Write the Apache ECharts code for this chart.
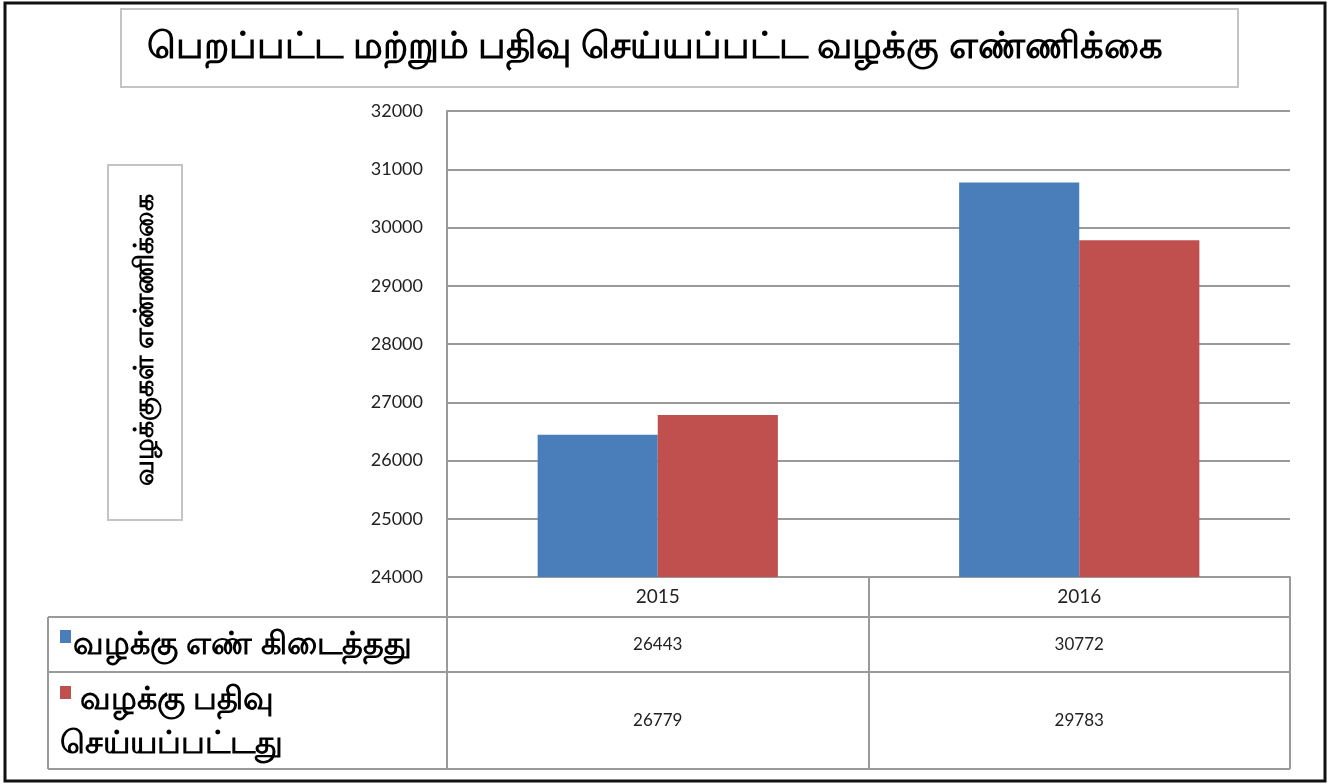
<!DOCTYPE html>
<html>
<head>
<meta charset="utf-8">
<script src="https://cdn.jsdelivr.net/npm/echarts@6/dist/echarts.min.js"></script>
<style>
  html, body { margin: 0; padding: 0; background: #fff; }
  #chart { width: 1342px; height: 784px; }
</style>
</head>
<body>
<div id="chart"></div>
<script>
// Received vs registered case counts, 2015-2016, bar chart with a data table underneath.
const titleText = "பெறப்பட்ட மற்றும் பதிவு செய்யப்பட்ட வழக்கு எண்ணிக்கை";
const yAxisTitle = "வழக்குகள் எண்ணிக்கை";
const years = ["2015", "2016"];
const seriesNames = ["வழக்கு எண் கிடைத்தது", "வழக்கு பதிவு செய்யப்பட்டது"];
const rowHeaderLines = [["வழக்கு எண் கிடைத்தது"], ["வழக்கு பதிவு", "செய்யப்பட்டது"]];
const received = [26443, 30772];
const registered = [26779, 29783];
const colors = ["#4a7ebb", "#c0504d"];
const yMin = 24000, yMax = 32000, yStep = 1000;

const FONT = "'Noto Sans', 'DejaVu Sans', sans-serif";
const NUMFONT = "Lato, 'Open Sans', sans-serif";
const GRID = "#9a9a9a";

const chart = echarts.init(document.getElementById("chart"));

// table rows below the plot (header row is the x axis itself)
const rowLine = (y, x1) => ({
  type: "line", silent: true,
  shape: { x1: x1, y1: y, x2: 1290, y2: y },
  style: { stroke: GRID, lineWidth: 2 },
});
const headerText = (x, y, text) => ({
  type: "text", silent: true, x: x, y: y,
  style: { text: text, fontFamily: FONT, fontSize: 32, fontWeight: "bold", fill: "#000",
    verticalAlign: "middle" },
});

chart.setOption({
  animation: false,
  textStyle: { fontFamily: FONT },
  grid: { left: 447, right: 52, top: 111, bottom: 207 },
  xAxis: {
    type: "category", data: years,
    axisLine: { lineStyle: { color: GRID, width: 2 } },
    axisTick: { show: true, length: 192, lineStyle: { color: GRID, width: 2 } },
    axisLabel: {
      margin: 0,
      formatter: (v, i) => `{y|${v}}\n{a|${received[i]}}\n{b|${registered[i]}}`,
      rich: {
        y: { fontFamily: NUMFONT, fontSize: 19, color: "#222", lineHeight: 40 },
        a: { fontFamily: NUMFONT, fontSize: 17, color: "#222", lineHeight: 55 },
        b: { fontFamily: NUMFONT, fontSize: 17, color: "#222", lineHeight: 97 },
      },
    },
  },
  yAxis: {
    type: "value", min: yMin, max: yMax, interval: yStep,
    axisLine: { show: true, lineStyle: { color: GRID, width: 2 } },
    axisTick: { show: false },
    axisLabel: { fontFamily: NUMFONT, fontSize: 18, color: "#222", margin: 24,
      formatter: (v) => String(v) },
    splitLine: { lineStyle: { color: GRID, width: 2 } },
  },
  series: [
    { name: seriesNames[0], type: "bar", data: received, barGap: "0%", barCategoryGap: "43%",
      itemStyle: { color: colors[0] } },
    { name: seriesNames[1], type: "bar", data: registered, barGap: "0%", barCategoryGap: "43%",
      itemStyle: { color: colors[1] } },
  ],
  graphic: [
    // outer frame
    { type: "rect", silent: true, shape: { x: 5, y: 3, width: 1320, height: 778 },
      style: { fill: "none", stroke: "#111", lineWidth: 3 } },
    // title box
    { type: "rect", silent: true, shape: { x: 121, y: 9, width: 1117, height: 78 },
      style: { fill: "#fff", stroke: "#c4c4c4", lineWidth: 2 } },
    { type: "text", silent: true, x: 655, y: 47,
      style: { text: titleText, fontFamily: FONT, fontSize: 37, fontWeight: "bold", fill: "#000",
        align: "center", verticalAlign: "middle" } },
    // y axis title box
    { type: "rect", silent: true, shape: { x: 108, y: 165, width: 74, height: 355 },
      style: { fill: "#fff", stroke: "#c4c4c4", lineWidth: 2 } },
    { type: "text", silent: true, x: 145, y: 340, rotation: Math.PI / 2,
      style: { text: yAxisTitle, fontFamily: FONT, fontSize: 27, fontWeight: "bold", fill: "#000",
        align: "center", verticalAlign: "middle" } },
    // data table lines
    rowLine(617, 48), rowLine(672, 48), rowLine(769, 48),
    { type: "line", silent: true, shape: { x1: 48, y1: 617, x2: 48, y2: 769 },
      style: { stroke: GRID, lineWidth: 2 } },
    // legend keys + row headers
    { type: "rect", silent: true, shape: { x: 60, y: 630, width: 11, height: 13 },
      style: { fill: colors[0] } },
    headerText(73, 645, rowHeaderLines[0][0]),
    { type: "rect", silent: true, shape: { x: 60, y: 686, width: 11, height: 13 },
      style: { fill: colors[1] } },
    headerText(80, 700, rowHeaderLines[1][0]),
    headerText(60, 744, rowHeaderLines[1][1]),
  ],
});
</script>
</body>
</html>
